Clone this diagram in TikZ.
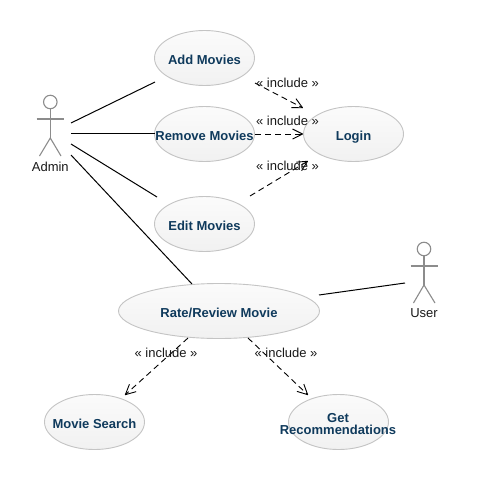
\documentclass[tikz,border=0pt]{standalone}
\usepackage{fontspec}
\setmainfont{Liberation Sans}
\usetikzlibrary{shapes.geometric}
\definecolor{ucblue}{HTML}{0F3A5C}
\definecolor{ucedge}{HTML}{C4C4C4}
\definecolor{uctop}{HTML}{FBFBFB}
\definecolor{ucbot}{HTML}{F1F1F1}
\definecolor{actorgray}{HTML}{8C8C8C}
\pgfarrowsdeclare{openvee}{openvee}
{\pgfarrowsleftextend{-10pt}\pgfarrowsrightextend{0.5pt}}
{\pgfsetdash{}{0pt}\pgfsetroundjoin
 \pgfpathmoveto{\pgfpoint{-10pt}{5pt}}
 \pgfpathlineto{\pgfpointorigin}
 \pgfpathlineto{\pgfpoint{-10pt}{-5pt}}
 \pgfusepathqstroke}
\newcommand{\ucname}[1]{\raisebox{-6.3pt}[0pt][0pt]{\makebox[0pt]{#1}}}
\tikzset{
  usecase/.style={ellipse,draw=ucedge,line width=0.9pt,top color=uctop,bottom color=ucbot,inner sep=0pt,
    minimum width=100pt,minimum height=55pt,text=ucblue,
    font=\fontsize{13}{13}\selectfont\bfseries},
  assoc/.style={line width=1pt,black},
  incl/.style={line width=0.9pt,black,dash pattern=on 6pt off 4pt,-openvee},
  inclabel/.style={font=\fontsize{13}{13}\selectfont,text=black!90,inner sep=0pt},
  actorhead/.style={circle,draw=actorgray,line width=1.1pt,minimum size=13.5pt,inner sep=0pt},
  actorline/.style={line width=1.1pt,actorgray},
  actorlabel/.style={font=\fontsize{13}{13}\selectfont,text=black!90,inner sep=0pt},
}
\begin{document}
\begin{tikzpicture}[x=1pt,y=-1pt]
\useasboundingbox[fill=white] (0,0) rectangle (487,479);
% use cases
\node[usecase] (add) at (204.5,58) {\ucname{Add Movies}};
\node[usecase] (remove) at (204.5,134) {\ucname{Remove Movies}};
\node[usecase] (edit) at (204.5,224) {\ucname{Edit Movies}};
\node[usecase] (login) at (353.5,134) {\ucname{Login}};
\node[usecase,minimum width=201pt] (rate) at (219,311) {\ucname{Rate/Review Movie}};
\node[usecase] (search) at (94.5,422) {\ucname{Movie Search}};
\node[usecase] (recs) at (338.5,422) {};
\node[text=ucblue,font=\fontsize{13}{13}\selectfont\bfseries,align=center,inner sep=0pt] (recslabel) at (338,424) {Get\\[-0.3pt]Recommendations};
% admin actor
\node[actorhead] (adminhead) at (50.3,102) {};
\coordinate (adminhip) at (50.3,138);
\draw[actorline] (adminhead.south) -- (adminhip);
\coordinate (adminarmL) at (36.7,119);
\coordinate (adminarmR) at (64,119);
\draw[actorline] (adminarmL) -- (adminarmR);
\coordinate (adminlegL) at (39.5,156);
\coordinate (adminlegR) at (61,156);
\draw[actorline] (adminlegL) -- (adminhip) -- (adminlegR);
\node[actorlabel] (adminlabel) at (50.3,167) {Admin};
% user actor
\node[actorhead] (userhead) at (424,249) {};
\coordinate (userhip) at (424,285);
\draw[actorline] (userhead.south) -- (userhip);
\coordinate (userarmL) at (410.7,266);
\coordinate (userarmR) at (438,266);
\draw[actorline] (userarmL) -- (userarmR);
\coordinate (userlegL) at (413.5,303);
\coordinate (userlegR) at (435,303);
\draw[actorline] (userlegL) -- (userhip) -- (userlegR);
\node[actorlabel] (userlabel) at (424,313.5) {User};
% association ends
\coordinate (a1s) at (71,123); \coordinate (a1e) at (155,82);
\coordinate (a2s) at (71,133); \coordinate (a2e) at (155,133);
\coordinate (a3s) at (71,144); \coordinate (a3e) at (157,197);
\coordinate (a4s) at (71,155); \coordinate (a4e) at (192,284);
\coordinate (u1s) at (319,295); \coordinate (u1e) at (405,283);
\draw[assoc] (a1s) -- (a1e);
\draw[assoc] (a2s) -- (a2e);
\draw[assoc] (a3s) -- (a3e);
\draw[assoc] (a4s) -- (a4e);
\draw[assoc] (u1s) -- (u1e);
% include ends
\coordinate (i1s) at (255,83);  \coordinate (i1e) at (303,108);
\coordinate (i2s) at (255,134); \coordinate (i2e) at (303,134);
\coordinate (i3s) at (250,196); \coordinate (i3e) at (308,161);
\coordinate (i4s) at (188,338); \coordinate (i4e) at (125,395);
\coordinate (i5s) at (248,338); \coordinate (i5e) at (308,395);
\draw[incl] (i1s) -- (i1e);
\draw[incl] (i2s) -- (i2e);
\draw[incl] (i3s) -- (i3e);
\draw[incl] (i4s) -- (i4e);
\draw[incl] (i5s) -- (i5e);
\node[inclabel] (l1) at (287.5,83) {« include »};
\node[inclabel] (l2) at (287.5,121) {« include »};
\node[inclabel] (l3) at (287.5,166) {« include »};
\node[inclabel] (l4) at (166,353) {« include »};
\node[inclabel] (l5) at (286,353) {« include »};
\end{tikzpicture}
\end{document}
